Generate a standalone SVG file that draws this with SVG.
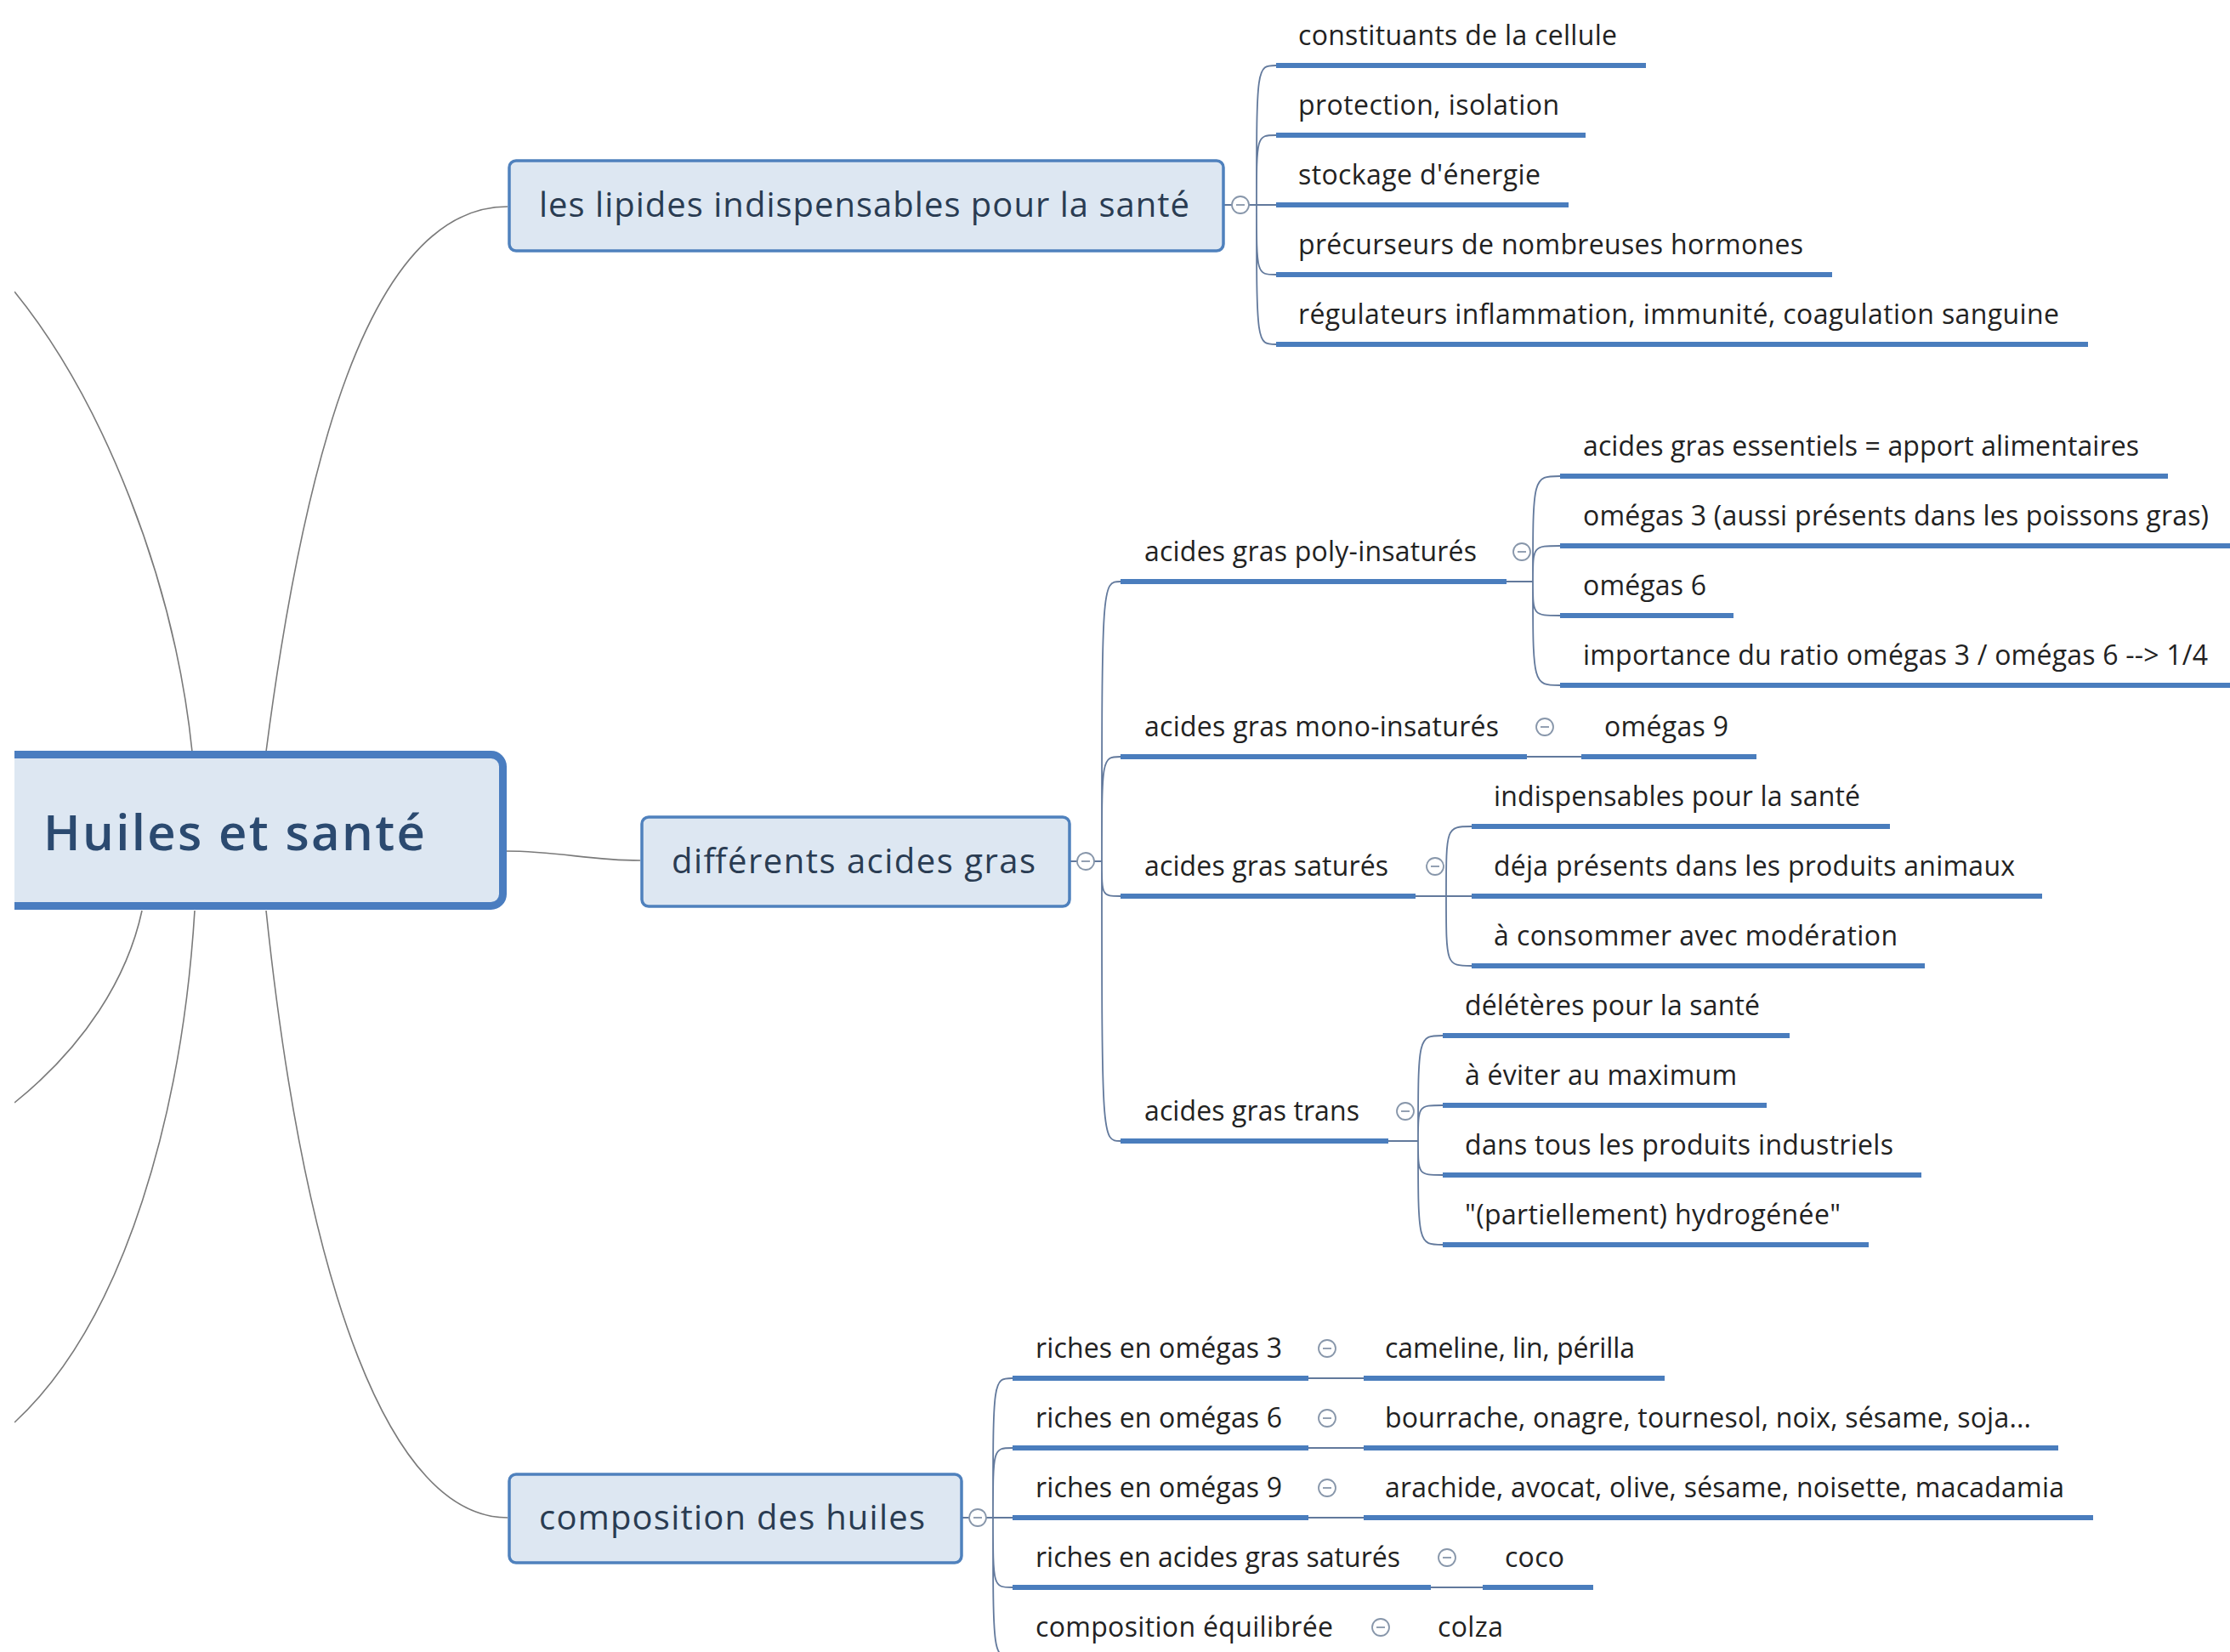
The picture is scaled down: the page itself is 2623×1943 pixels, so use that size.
<svg xmlns="http://www.w3.org/2000/svg" xmlns:xlink="http://www.w3.org/1999/xlink" width="2623" height="1943" viewBox="0 0 2623 1943">
<defs>
<style>
.box{fill:#dde7f2;stroke:#4f81bd;stroke-width:3.5}
.root{fill:#dde7f2;stroke:#4a7dc0;stroke-width:9}
.ul{stroke:#4a7dbd;stroke-width:6;fill:none}
.main{fill:none;stroke:#7a7a7a;stroke-width:1.6}
.br{fill:none;stroke:#62799c;stroke-width:1.8}
.tog circle{fill:#fff;stroke:#8796aa;stroke-width:1.8}
.tog line{stroke:#8796aa;stroke-width:1.8}
text{font-family:"Open Sans","DejaVu Sans",sans-serif}
.t{font-size:32px;fill:#222222}
.tm{font-size:40px;fill:#2a3c52}
.tr{font-size:58px;font-weight:600;fill:#2b4a70}
</style>
<g id="tg" class="tog"><circle cx="0" cy="0" r="10"/><line x1="-5" y1="0" x2="5" y2="0"/></g>
<clipPath id="clip"><rect x="17" y="0" width="2606" height="1943"/></clipPath>
</defs>
<rect x="0" y="0" width="2623" height="1943" fill="#ffffff"/>
<g clip-path="url(#clip)">
<g id="connectors">
<path class="main" d="M226,884 C205,680 120,470 17,343"/>
<path class="main" d="M313,884 C355,560 430,243 597,243"/>
<path class="main" d="M594,1001 C660,1001 690,1012 753,1012"/>
<path class="main" d="M167,1071 C150,1150 100,1230 17,1297"/>
<path class="main" d="M229,1071 C215,1300 150,1550 17,1673"/>
<path class="main" d="M313,1071 C360,1520 460,1785 597,1785"/>
<path class="br" d="M1440,241H1449 M1469,241H1501 M1478,241 C1478,77 1478,77 1501,77 M1478,241 C1478,159 1478,159 1501,159 M1478,241 C1478,323 1478,323 1501,323 M1478,241 C1478,405 1478,405 1501,405"/>
<path class="br" d="M1259,1013H1267 M1287,1013H1296 M1296,1013 C1296,684 1296,684 1318,684 M1296,1013 C1296,890 1296,890 1318,890 M1296,1013 C1296,1054 1296,1054 1318,1054 M1296,1013 C1296,1342 1296,1342 1318,1342"/>
<path class="br" d="M1132,1785H1140 M1160,1785H1191 M1168,1785 C1168,1621 1168,1621 1191,1621 M1168,1785 C1168,1703 1168,1703 1191,1703 M1168,1785 C1168,1867 1168,1867 1191,1867 M1168,1785 C1168,1949 1168,1949 1191,1949"/>
<path class="br" d="M1772,684H1803 M1803,684 C1803,560 1803,560 1835,560 M1803,684 C1803,642 1803,642 1835,642 M1803,684 C1803,724 1803,724 1835,724 M1803,684 C1803,806 1803,806 1835,806"/>
<path class="br" d="M1796,890H1860"/>
<path class="br" d="M1665,1054H1731 M1701,1054 C1701,972 1701,972 1731,972 M1701,1054 C1701,1136 1701,1136 1731,1136"/>
<path class="br" d="M1633,1342H1668 M1668,1342 C1668,1218 1668,1218 1697,1218 M1668,1342 C1668,1300 1668,1300 1697,1300 M1668,1342 C1668,1382 1668,1382 1697,1382 M1668,1342 C1668,1464 1668,1464 1697,1464"/>
<path class="br" d="M1539,1621H1604 M1539,1703H1604 M1539,1785H1604 M1683,1867H1744 M1602,1949H1668"/>
</g>

<g id="node-root">
<rect class="root" x="-20" y="887.5" width="611.5" height="178" rx="14"/>
<text class="tr" x="51" y="1000" textLength="449">Huiles et santé</text>
</g>

<g id="node-lipides">
<rect class="box" x="599" y="189" width="840" height="106" rx="8"/>
<text class="tm" x="634" y="255" textLength="765">les lipides indispensables pour la santé</text>
<use xlink:href="#tg" x="1459" y="241"/>
</g>
<g id="leaf-l1"><line class="ul" x1="1501" y1="77" x2="1936" y2="77"/><text class="t" x="1527" y="53" textLength="375">constituants de la cellule</text></g>
<g id="leaf-l2"><line class="ul" x1="1501" y1="159" x2="1865" y2="159"/><text class="t" x="1527" y="135" textLength="307">protection, isolation</text></g>
<g id="leaf-l3"><line class="ul" x1="1501" y1="241" x2="1845" y2="241"/><text class="t" x="1527" y="217" textLength="285">stockage d'énergie</text></g>
<g id="leaf-l4"><line class="ul" x1="1501" y1="323" x2="2155" y2="323"/><text class="t" x="1527" y="299" textLength="594">précurseurs de nombreuses hormones</text></g>
<g id="leaf-l5"><line class="ul" x1="1501" y1="405" x2="2456" y2="405"/><text class="t" x="1527" y="381" textLength="895">régulateurs inflammation, immunité, coagulation sanguine</text></g>

<g id="node-differents">
<rect class="box" x="755" y="961" width="503" height="105" rx="8"/>
<text class="tm" x="790" y="1027" textLength="428">différents acides gras</text>
<use xlink:href="#tg" x="1277" y="1013"/>
</g>

<g id="node-poly"><line class="ul" x1="1318" y1="684" x2="1772" y2="684"/><text class="t" x="1346" y="660" textLength="391">acides gras poly-insaturés</text><use xlink:href="#tg" x="1790" y="649"/></g>
<g id="leaf-p1"><line class="ul" x1="1835" y1="560" x2="2550" y2="560"/><text class="t" x="1862" y="536" textLength="654">acides gras essentiels = apport alimentaires</text></g>
<g id="leaf-p2"><line class="ul" x1="1835" y1="642" x2="2630" y2="642"/><text class="t" x="1862" y="618" textLength="736">omégas 3 (aussi présents dans les poissons gras)</text></g>
<g id="leaf-p3"><line class="ul" x1="1835" y1="724" x2="2039" y2="724"/><text class="t" x="1862" y="700" textLength="145">omégas 6</text></g>
<g id="leaf-p4"><line class="ul" x1="1835" y1="806" x2="2630" y2="806"/><text class="t" x="1862" y="782" textLength="735">importance du ratio omégas 3 / omégas 6 --&gt; 1/4</text></g>

<g id="node-mono"><line class="ul" x1="1318" y1="890" x2="1796" y2="890"/><text class="t" x="1346" y="866" textLength="417">acides gras mono-insaturés</text><use xlink:href="#tg" x="1817" y="855"/></g>
<g id="leaf-m1"><line class="ul" x1="1860" y1="890" x2="2066" y2="890"/><text class="t" x="1887" y="866" textLength="146">omégas 9</text></g>

<g id="node-satures"><line class="ul" x1="1318" y1="1054" x2="1665" y2="1054"/><text class="t" x="1346" y="1030" textLength="287">acides gras saturés</text><use xlink:href="#tg" x="1688" y="1019"/></g>
<g id="leaf-s1"><line class="ul" x1="1731" y1="972" x2="2223" y2="972"/><text class="t" x="1757" y="948" textLength="431">indispensables pour la santé</text></g>
<g id="leaf-s2"><line class="ul" x1="1731" y1="1054" x2="2402" y2="1054"/><text class="t" x="1757" y="1030" textLength="613">déja présents dans les produits animaux</text></g>
<g id="leaf-s3"><line class="ul" x1="1731" y1="1136" x2="2264" y2="1136"/><text class="t" x="1757" y="1112" textLength="475">à consommer avec modération</text></g>

<g id="node-trans"><line class="ul" x1="1318" y1="1342" x2="1633" y2="1342"/><text class="t" x="1346" y="1318" textLength="253">acides gras trans</text><use xlink:href="#tg" x="1653" y="1307"/></g>
<g id="leaf-t1"><line class="ul" x1="1697" y1="1218" x2="2105" y2="1218"/><text class="t" x="1723" y="1194" textLength="347">délétères pour la santé</text></g>
<g id="leaf-t2"><line class="ul" x1="1697" y1="1300" x2="2078" y2="1300"/><text class="t" x="1723" y="1276" textLength="320">à éviter au maximum</text></g>
<g id="leaf-t3"><line class="ul" x1="1697" y1="1382" x2="2260" y2="1382"/><text class="t" x="1723" y="1358" textLength="504">dans tous les produits industriels</text></g>
<g id="leaf-t4"><line class="ul" x1="1697" y1="1464" x2="2198" y2="1464"/><text class="t" x="1723" y="1440" textLength="442">"(partiellement) hydrogénée"</text></g>

<g id="node-composition">
<rect class="box" x="599" y="1734" width="532" height="104" rx="8"/>
<text class="tm" x="634" y="1799" textLength="454">composition des huiles</text>
<use xlink:href="#tg" x="1150" y="1785"/>
</g>
<g id="node-c1"><line class="ul" x1="1191" y1="1621" x2="1539" y2="1621"/><text class="t" x="1218" y="1597" textLength="290">riches en omégas 3</text><use xlink:href="#tg" x="1561" y="1586"/></g>
<g id="leaf-c1"><line class="ul" x1="1604" y1="1621" x2="1958" y2="1621"/><text class="t" x="1629" y="1597" textLength="294">cameline, lin, périlla</text></g>
<g id="node-c2"><line class="ul" x1="1191" y1="1703" x2="1539" y2="1703"/><text class="t" x="1218" y="1679" textLength="290">riches en omégas 6</text><use xlink:href="#tg" x="1561" y="1668"/></g>
<g id="leaf-c2"><line class="ul" x1="1604" y1="1703" x2="2421" y2="1703"/><text class="t" x="1629" y="1679" textLength="760">bourrache, onagre, tournesol, noix, sésame, soja...</text></g>
<g id="node-c3"><line class="ul" x1="1191" y1="1785" x2="1539" y2="1785"/><text class="t" x="1218" y="1761" textLength="290">riches en omégas 9</text><use xlink:href="#tg" x="1561" y="1750"/></g>
<g id="leaf-c3"><line class="ul" x1="1604" y1="1785" x2="2462" y2="1785"/><text class="t" x="1629" y="1761" textLength="799">arachide, avocat, olive, sésame, noisette, macadamia</text></g>
<g id="node-c4"><line class="ul" x1="1191" y1="1867" x2="1683" y2="1867"/><text class="t" x="1218" y="1843" textLength="429">riches en acides gras saturés</text><use xlink:href="#tg" x="1702" y="1832"/></g>
<g id="leaf-c4"><line class="ul" x1="1744" y1="1867" x2="1874" y2="1867"/><text class="t" x="1770" y="1843" textLength="70">coco</text></g>
<g id="node-c5"><line class="ul" x1="1191" y1="1949" x2="1602" y2="1949"/><text class="t" x="1218" y="1925" textLength="350">composition équilibrée</text><use xlink:href="#tg" x="1624" y="1914"/></g>
<g id="leaf-c5"><line class="ul" x1="1668" y1="1949" x2="1800" y2="1949"/><text class="t" x="1691" y="1925" textLength="77">colza</text></g>
</g>
</svg>
